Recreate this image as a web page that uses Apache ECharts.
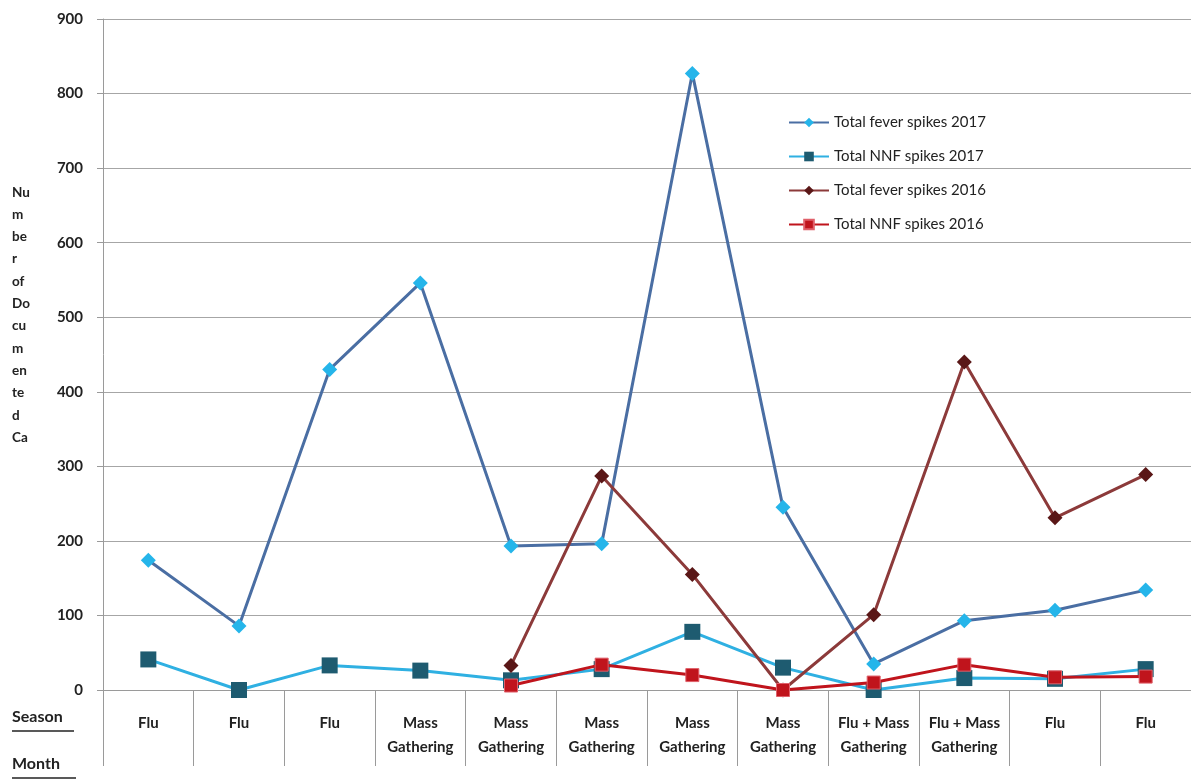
<!DOCTYPE html>
<html>
<head>
<meta charset="utf-8">
<script src="https://cdn.jsdelivr.net/npm/echarts@6/dist/echarts.min.js"></script>
<style>html,body{margin:0;padding:0;background:#fff}#c{width:1191px;height:782px}</style>
</head>
<body>
<div id="c"></div>
<script>
const categories = ['Flu','Flu','Flu','Mass\nGathering','Mass\nGathering','Mass\nGathering','Mass\nGathering','Mass\nGathering','Flu + Mass\nGathering','Flu + Mass\nGathering','Flu','Flu'];
const feverSpikes2017 = [174, 86, 430, 546, 193, 196, 827, 245, 35, 93, 107, 134];
const nnfSpikes2017 = [41, 0, 33, 26, 13, 28, 78, 30, 0, 16, 15, 28];
const feverSpikes2016 = [null, null, null, null, 33, 287, 155, 0, 101, 440, 231, 289];
const nnfSpikes2016 = [null, null, null, null, 6, 34, 20, 0, 10, 34, 17, 18];
const yTicks = [0, 100, 200, 300, 400, 500, 600, 700, 800, 900];
const seriesNames = ['Total fever spikes 2017','Total NNF spikes 2017','Total fever spikes 2016','Total NNF spikes 2016'];

const chart = echarts.init(document.getElementById('c'), null, {renderer:'canvas'});
const FONT = 'Lato, "Open Sans", sans-serif';
chart.setOption({
  animation: false,
  backgroundColor: '#fff',
  grid: {left: 103, right: 0, top: 19, bottom: 92, containLabel: false},
  legend: {
    orient: 'vertical', left: 783, top: 110, itemGap: 19, itemWidth: 40, itemHeight: 12,
    textStyle: {fontFamily: FONT, fontSize: 15, color: '#222'},
    data: seriesNames
  },
  xAxis: {
    type: 'category', data: categories, boundaryGap: true,
    axisLine: {lineStyle: {color: '#9a9a9a', width: 1}},
    axisTick: {show: true, interval: 0, length: 76, lineStyle: {color: '#9a9a9a'}},
    axisLabel: {interval: 0, margin: 21, fontFamily: FONT, fontSize: 15, fontWeight: 'bold', color: '#222', lineHeight: 24}
  },
  yAxis: {
    type: 'value', min: yTicks[0], max: yTicks[yTicks.length-1], interval: 100,
    axisLine: {show: true, lineStyle: {color: '#9a9a9a'}},
    axisTick: {show: true, length: 6, lineStyle: {color: '#9a9a9a'}},
    splitLine: {lineStyle: {color: '#a6a6a6', width: 1}},
    axisLabel: {margin: 20, fontFamily: FONT, fontSize: 15, fontWeight: 'bold', color: '#222'}
  },
  graphic: [
    {type: 'text', left: 12, top: 181, style: {text: 'Nu\nm\nbe\nr\nof\nDo\ncu\nm\nen\nte\nd\nCa', font: 'bold 13.5px ' + FONT, fill: '#222', lineHeight: 22.3}},
    {type: 'text', left: 12, top: 709, style: {text: 'Season', font: 'bold 16px ' + FONT, fill: '#222'}},
    {type: 'line', shape: {x1: 12, y1: 731, x2: 74, y2: 731}, style: {stroke: '#222', lineWidth: 1.5}},
    {type: 'text', left: 12, top: 756, style: {text: 'Month', font: 'bold 16px ' + FONT, fill: '#222'}},
    {type: 'line', shape: {x1: 12, y1: 778, x2: 76, y2: 778}, style: {stroke: '#222', lineWidth: 1.5}}
  ],
  series: [
    {name: seriesNames[0], type: 'line', data: feverSpikes2017, symbol: 'diamond', symbolSize: 15,
     lineStyle: {color: '#4a6ea3', width: 3}, itemStyle: {color: '#25b5ea'}, color: '#4a6ea3', z: 3},
    {name: seriesNames[1], type: 'line', data: nnfSpikes2017, symbol: 'rect', symbolSize: 16,
     lineStyle: {color: '#2fb0e2', width: 3}, itemStyle: {color: '#1e5b70'}, color: '#2fb0e2', z: 2},
    {name: seriesNames[2], type: 'line', data: feverSpikes2016, symbol: 'diamond', symbolSize: 15,
     lineStyle: {color: '#8c3a3a', width: 3}, itemStyle: {color: '#5a1717'}, color: '#8c3a3a', z: 4},
    {name: seriesNames[3], type: 'line', data: nnfSpikes2016, symbol: 'rect', symbolSize: 13,
     lineStyle: {color: '#c0141c', width: 3}, itemStyle: {color: '#c0141c', borderColor: '#e0606a', borderWidth: 1}, color: '#c0141c', z: 5}
  ]
});
</script>
</body>
</html>
